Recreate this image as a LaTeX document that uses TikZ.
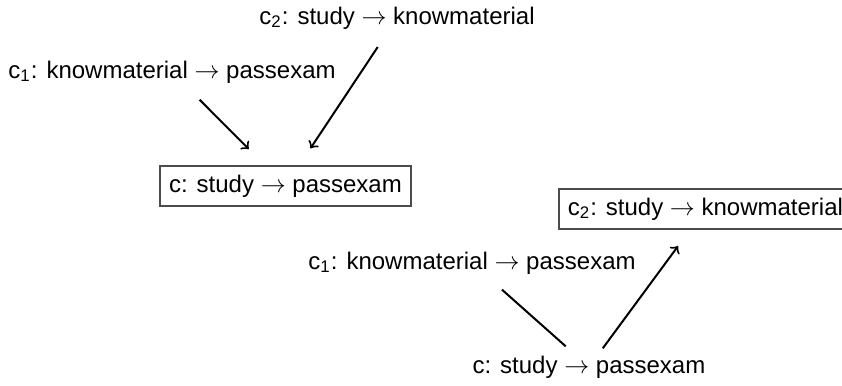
\documentclass[tikz,border=0pt]{standalone}
\usepackage{fontspec}
\setmainfont{Liberation Sans}
\begin{document}
\begin{tikzpicture}[x=0.4pt,y=-0.4pt,
  lbl/.style={font=\fontsize{9.6}{11}\selectfont, inner sep=3.6pt},
  boxed/.style={lbl, draw=black!70, line width=0.6pt},
  edge/.style={line width=0.8pt},
  arr/.style={edge,->}]
\useasboundingbox (0,0) rectangle (842,386);

% upper derivation: c1 and c2 combine into c
\node[lbl]   (t2) at (397,18)    {c\textsubscript{2}: study $\rightarrow$ knowmaterial};
\node[lbl]   (t1) at (172,72)    {c\textsubscript{1}: knowmaterial $\rightarrow$ passexam};
\node[boxed] (b1) at (285.5,186) {c: study $\rightarrow$ passexam};
\draw[arr, shorten <=4pt, shorten >=9pt] (t1) -- (b1);
\draw[arr, shorten <=4pt, shorten >=8pt] (t2) -- (b1);

% lower derivation: c and c1 yield c2
\node[boxed, anchor=west] (r2) at (558,209) {c\textsubscript{2}: study $\rightarrow$ knowmaterial};
\node[lbl]   (r1) at (472,263)   {c\textsubscript{1}: knowmaterial $\rightarrow$ passexam};
\node[lbl]   (rc) at (589,367)   {c: study $\rightarrow$ passexam};
\draw[edge, shorten <=3.6pt] (r1) -- (rc);
\draw[arr, shorten <=-1pt, shorten >=8pt] (rc) -- (r2);
\end{tikzpicture}
\end{document}
